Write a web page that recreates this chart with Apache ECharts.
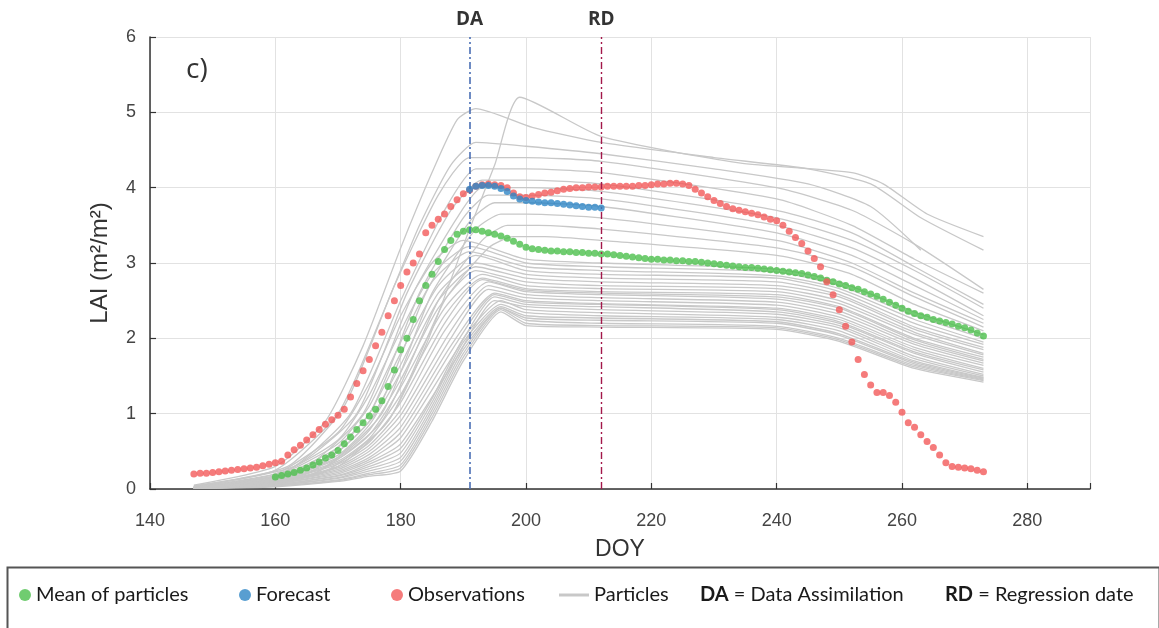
<!DOCTYPE html>
<html><head><meta charset="utf-8">
<script src="https://cdn.jsdelivr.net/npm/echarts@6/dist/echarts.min.js"></script>
<style>html,body{margin:0;padding:0;background:#fff}#chart{width:1159px;height:628px}</style>
</head><body><div id="chart"></div>
<script>
// ---- data ----
const xTicks = [140, 160, 180, 200, 220, 240, 260, 280];
const yTicks = [0, 1, 2, 3, 4, 5, 6];
const daDoy = 191;
const rdDoy = 212;

const obsStartDoy = 147;
const observations = [
  0.20,0.21,0.21,0.22,0.23,0.24,0.25,0.26,0.27,0.28,0.29,0.31,0.33,0.35,0.37,0.45,0.52,0.58,0.65,0.72,
  0.79,0.86,0.92,0.98,1.06,1.22,1.40,1.57,1.72,1.90,2.08,2.30,2.50,2.70,2.88,3.00,3.12,3.40,3.50,3.58,
  3.65,3.75,3.84,3.92,3.97,4.02,4.04,4.05,4.04,4.03,4.00,3.93,3.88,3.87,3.89,3.91,3.93,3.94,3.96,3.98,
  3.99,4.00,4.00,4.01,4.01,4.01,4.02,4.02,4.02,4.02,4.02,4.03,4.03,4.04,4.05,4.05,4.06,4.06,4.05,4.03,
  3.98,3.93,3.88,3.83,3.79,3.75,3.72,3.70,3.68,3.66,3.64,3.61,3.58,3.56,3.50,3.42,3.34,3.26,3.16,3.06,
  2.95,2.75,2.58,2.38,2.16,1.95,1.72,1.52,1.38,1.28,1.28,1.24,1.15,1.02,0.88,0.82,0.72,0.63,0.55,0.45,
  0.35,0.30,0.29,0.28,0.27,0.25,0.23
];

const forecastStartDoy = 191;
const forecast = [3.98,4.02,4.03,4.03,4.02,3.99,3.95,3.89,3.85,3.83,3.82,3.81,3.80,3.80,3.79,3.78,3.77,3.76,3.75,3.74,3.74,3.73];

const meanStartDoy = 160;
const meanParticles = [
  0.16,0.18,0.20,0.22,0.25,0.28,0.32,0.36,0.41,0.45,0.51,0.60,0.69,0.79,0.88,0.97,1.06,1.17,1.36,1.58,
  1.85,2.00,2.25,2.50,2.70,2.85,3.02,3.18,3.30,3.38,3.42,3.44,3.44,3.42,3.40,3.38,3.36,3.33,3.29,3.25,
  3.21,3.19,3.18,3.17,3.16,3.16,3.15,3.15,3.14,3.14,3.13,3.13,3.12,3.12,3.11,3.10,3.09,3.08,3.07,3.06,
  3.05,3.05,3.04,3.04,3.03,3.03,3.02,3.02,3.01,3.00,2.99,2.98,2.97,2.96,2.95,2.94,2.94,2.93,2.92,2.91,
  2.90,2.89,2.88,2.87,2.86,2.84,2.82,2.80,2.77,2.75,2.72,2.70,2.67,2.65,2.62,2.59,2.56,2.52,2.48,2.44,
  2.40,2.36,2.33,2.30,2.28,2.25,2.23,2.21,2.19,2.16,2.14,2.11,2.07,2.03
];

const particles = [
  [[147,0.01],[160,0.08],[170,0.3],[178,0.9],[184,1.9],[191,3.45],[195,4.3],[199,5.2],[212,4.68],[234,4.33],[252,4.2],[257,4.05],[264,3.65],[273,3.35]],
  [[147,0.05],[160,0.3],[168,0.9],[174,1.9],[180,3.2],[185,4.2],[189,4.9],[192,5.05],[201,4.8],[212,4.6],[230,4.4],[245,4.25],[255,4.05],[263,3.6],[273,3.17]],
  [[147,0.04],[160,0.25],[170,1.0],[177,2.3],[183,3.5],[188,4.3],[192,4.6],[200,4.55],[212,4.45],[230,4.25],[245,4.05],[255,3.75],[263,3.17]],
  [[147,0.04],[162,0.3],[171,1.1],[179,2.7],[186,3.9],[191,4.4],[200,4.4],[212,4.35],[240,4.0],[252,3.7],[262,3.25],[273,2.65]],
  [[147,0.03],[162,0.25],[172,1.0],[180,2.5],[187,3.7],[192,4.25],[200,4.25],[212,4.2],[240,3.85],[252,3.5],[262,3.05],[273,2.6]],
  [[147,0.03],[163,0.3],[173,1.0],[181,2.6],[188,3.7],[193,4.1],[200,4.1],[212,4.05],[240,3.7],[252,3.4],[262,2.95],[273,2.45]],
  [[147,0.02],[164,0.25],[174,1.0],[182,2.6],[189,3.6],[193,4.0],[200,4.0],[212,3.95],[240,3.6],[252,3.3],[262,2.9],[273,2.4]],
  [[147,0.02],[165,0.25],[175,1.0],[183,2.6],[190,3.6],[194,3.9],[200,3.9],[212,3.85],[240,3.5],[252,3.2],[262,2.8],[273,2.3]],
  [[147,0.02],[165,0.2],[176,1.0],[184,2.6],[191,3.55],[195,3.8],[200,3.8],[212,3.75],[240,3.4],[252,3.1],[262,2.7],[273,2.25]],
  [[147,0.02],[166,0.2],[177,1.0],[185,2.6],[192,3.45],[196,3.65],[200,3.65],[212,3.6],[240,3.3],[252,3.0],[262,2.6],[273,2.2]],
  [[147,0.02],[166,0.2],[177,0.9],[186,2.5],[193,3.3],[197,3.5],[202,3.5],[212,3.45],[240,3.2],[252,2.95],[262,2.55],[273,2.15]],
  [[147,0.01],[167,0.2],[178,0.9],[187,2.5],[194,3.2],[198,3.35],[203,3.35],[212,3.3],[240,3.1],[252,2.85],[262,2.45],[273,2.1]],
  [[147,0.03],[160,0.2],[170,0.75],[175,1.4],[180,2.3],[185,3.0],[190,3.3],[200,3.05],[212,3.0],[240,2.92],[250,2.75],[262,2.35],[273,2.05]],
  [[147,0.03],[160,0.18],[170,0.65],[175,1.25],[180,2.1],[185,2.85],[191,3.22],[200,3.0],[212,2.95],[240,2.88],[250,2.7],[262,2.3],[273,2.0]],
  [[147,0.02],[160,0.17],[170,0.6],[175,1.1],[180,1.95],[185,2.75],[191,3.15],[200,2.95],[212,2.9],[240,2.83],[250,2.66],[262,2.25],[273,1.95]],
  [[147,0.02],[160,0.15],[170,0.55],[175,1.0],[180,1.8],[186,2.7],[192,3.1],[200,2.9],[212,2.85],[240,2.8],[250,2.62],[262,2.2],[273,1.92]],
  [[147,0.02],[160,0.14],[170,0.5],[175,0.9],[180,1.65],[186,2.6],[192,3.0],[200,2.85],[212,2.8],[240,2.75],[250,2.58],[262,2.15],[273,1.88]],
  [[147,0.02],[160,0.13],[170,0.45],[175,0.85],[180,1.55],[186,2.5],[192,2.95],[200,2.8],[212,2.75],[240,2.7],[250,2.55],[262,2.12],[273,1.85]],
  [[147,0.02],[160,0.12],[170,0.42],[175,0.78],[180,1.45],[186,2.4],[192,2.9],[200,2.75],[212,2.7],[240,2.66],[250,2.5],[262,2.08],[273,1.8]],
  [[147,0.02],[160,0.12],[170,0.4],[175,0.72],[180,1.35],[187,2.4],[193,2.85],[200,2.7],[212,2.66],[240,2.62],[250,2.46],[262,2.05],[273,1.78]],
  [[147,0.01],[160,0.11],[170,0.37],[175,0.67],[180,1.25],[187,2.3],[193,2.8],[200,2.66],[212,2.62],[240,2.58],[250,2.42],[262,2.0],[273,1.75]],
  [[147,0.01],[160,0.1],[170,0.35],[175,0.62],[180,1.15],[187,2.2],[193,2.78],[200,2.64],[212,2.6],[240,2.55],[250,2.4],[262,1.98],[273,1.72]],
  [[147,0.01],[160,0.1],[170,0.33],[175,0.58],[180,1.05],[187,2.1],[194,2.75],[200,2.62],[212,2.58],[240,2.52],[250,2.36],[262,1.95],[273,1.7]],
  [[147,0.01],[160,0.09],[170,0.3],[175,0.54],[180,0.98],[188,2.1],[194,2.7],[200,2.58],[212,2.54],[240,2.48],[250,2.32],[262,1.92],[273,1.67]],
  [[147,0.01],[160,0.09],[170,0.28],[175,0.5],[180,0.9],[188,2.0],[194,2.65],[200,2.54],[212,2.5],[240,2.44],[250,2.28],[262,1.88],[273,1.64]],
  [[147,0.01],[160,0.08],[170,0.26],[175,0.46],[180,0.82],[188,1.9],[195,2.6],[200,2.5],[212,2.46],[240,2.4],[250,2.25],[262,1.85],[273,1.6]],
  [[147,0.01],[160,0.08],[170,0.24],[175,0.42],[180,0.75],[189,1.95],[195,2.58],[200,2.48],[212,2.45],[240,2.38],[250,2.22],[262,1.82],[273,1.58]],
  [[147,0.01],[160,0.07],[170,0.22],[175,0.39],[180,0.68],[189,1.85],[195,2.55],[200,2.45],[212,2.42],[240,2.35],[250,2.2],[262,1.8],[273,1.55]],
  [[147,0.01],[160,0.07],[170,0.2],[175,0.36],[180,0.6],[189,1.75],[195,2.5],[200,2.42],[212,2.38],[240,2.32],[250,2.17],[262,1.76],[273,1.52]],
  [[147,0.01],[160,0.06],[170,0.18],[175,0.33],[180,0.54],[185,1.2],[190,2.0],[196,2.5],[200,2.38],[212,2.34],[240,2.28],[250,2.14],[262,1.73],[273,1.5]],
  [[147,0.01],[160,0.06],[170,0.17],[175,0.3],[180,0.48],[185,1.15],[190,1.95],[196,2.45],[200,2.34],[212,2.3],[240,2.25],[250,2.1],[262,1.7],[273,1.48]],
  [[147,0.01],[160,0.05],[170,0.15],[175,0.27],[180,0.42],[185,1.1],[190,1.9],[196,2.42],[200,2.3],[212,2.27],[240,2.22],[250,2.06],[262,1.68],[273,1.47]],
  [[147,0.01],[160,0.05],[170,0.14],[175,0.24],[180,0.37],[185,1.05],[190,1.85],[196,2.4],[200,2.27],[212,2.24],[240,2.2],[250,2.04],[262,1.66],[273,1.46]],
  [[147,0.01],[160,0.04],[170,0.12],[175,0.21],[180,0.32],[185,1.0],[190,1.8],[196,2.4],[200,2.24],[212,2.2],[240,2.16],[250,2.0],[262,1.64],[273,1.45]],
  [[147,0.01],[160,0.04],[170,0.11],[175,0.19],[180,0.28],[185,0.95],[190,1.75],[196,2.38],[200,2.2],[212,2.17],[240,2.14],[250,1.98],[262,1.62],[273,1.44]],
  [[147,0.01],[160,0.03],[170,0.1],[175,0.17],[180,0.24],[185,0.9],[190,1.7],[196,2.35],[200,2.17],[212,2.15],[240,2.12],[250,1.96],[262,1.6],[273,1.42]]
];

// ---- styles ----
const C_GREEN = '#4cbf4c', C_BLUE = '#2e86c6', C_RED = '#f25a5a', C_GREY = '#c8c8c8';
const legendFont = {fontFamily: 'Lato', fontSize: 20, color: '#1a1a1a'};

const series = [];
particles.forEach(p => series.push({
  name: 'Particles', type: 'line', data: p, showSymbol: false, symbol: 'none', silent: true,
  smooth: 0.2,
  color: C_GREY, lineStyle: {color: C_GREY, width: 1.3}, z: 1
}));
series.push({name: 'Mean of particles', type: 'scatter', symbolSize: 7, color: C_GREEN,
  data: meanParticles.map((v, i) => [meanStartDoy + i, v]), z: 3});
series.push({name: 'Observations', type: 'scatter', symbolSize: 7, color: C_RED,
  data: observations.map((v, i) => [obsStartDoy + i, v]), z: 4});
series.push({name: 'Forecast', type: 'scatter', symbolSize: 7, color: C_BLUE,
  data: forecast.map((v, i) => [forecastStartDoy + i, v]), z: 5});
series.push({name: 'refs', type: 'line', data: [], z: 6,
  markLine: {symbol: 'none', silent: true, animation: false,
    label: {show: true, position: 'end', distance: 8, fontFamily: 'Open Sans', fontWeight: 'bold', fontSize: 19, color: '#333'},
    data: [
      {xAxis: daDoy, label: {formatter: 'DA'}, lineStyle: {color: '#4a6fb5', width: 1.6, type: [7, 3, 2, 3]}},
      {xAxis: rdDoy, label: {formatter: 'RD'}, lineStyle: {color: '#a3184a', width: 1.4, type: [7, 3, 2, 3]}}
    ]}});

const axisCommon = {
  axisLine: {show: true, lineStyle: {color: '#333', width: 1.5}},
  axisTick: {show: true, inside: true, length: 6, lineStyle: {color: '#333', width: 1.2}},
  splitLine: {show: true, lineStyle: {color: '#e2e2e2', width: 1}},
};

const option = {
  animation: false,
  backgroundColor: '#fff',
  grid: {left: 150, top: 37, width: 940, height: 452, containLabel: false},
  xAxis: Object.assign({type: 'value', min: 140, max: 290, interval: 20,
    name: 'DOY', nameLocation: 'middle', nameGap: 49,
    nameTextStyle: {fontFamily: 'Liberation Sans', fontSize: 23, color: '#333'},
    axisLabel: {fontFamily: 'Liberation Sans', fontSize: 18, color: '#444', margin: 23,
      formatter: v => xTicks.includes(v) ? String(v) : ''}}, axisCommon),
  yAxis: Object.assign({type: 'value', min: 0, max: 6, interval: 1,
    name: 'LAI (m²/m²)', nameLocation: 'middle', nameGap: 38, nameRotate: 90,
    nameTextStyle: {fontFamily: 'Liberation Sans', fontSize: 24, color: '#333'},
    axisLabel: {fontFamily: 'Liberation Sans', fontSize: 18, color: '#444', margin: 14,
      formatter: v => yTicks.includes(v) ? String(v) : ''}}, axisCommon),
  legend: [
    {data: ['Mean of particles'], left: 14, top: 580, icon: 'circle', itemWidth: 12, itemHeight: 12, textStyle: legendFont},
    {data: ['Forecast'], left: 234, top: 580, icon: 'circle', itemWidth: 12, itemHeight: 12, textStyle: legendFont},
    {data: ['Observations'], left: 386, top: 580, icon: 'circle', itemWidth: 12, itemHeight: 12, textStyle: legendFont},
    {data: ['Particles'], left: 554, top: 580, icon: 'rect', itemWidth: 30, itemHeight: 3, textStyle: legendFont}
  ],
  graphic: [
    {type: 'rect', left: 5, top: 565, shape: {width: 1152, height: 80}, style: {fill: 'none', stroke: '#555', lineWidth: 2}, z: 10},
    {type: 'text', left: 186, top: 56, style: {text: 'c)', font: '28px "Open Sans"', fill: '#333'}, z: 10},
    {type: 'text', left: 700, top: 585, style: {text: '{b|DA} = Data Assimilation', rich: {b: {fontWeight: 'bold', fontFamily: 'Lato', fontSize: 20, fill: '#1a1a1a'}}, font: '20px Lato', fill: '#1a1a1a'}, z: 10},
    {type: 'text', left: 945, top: 585, style: {text: '{b|RD} = Regression date', rich: {b: {fontWeight: 'bold', fontFamily: 'Lato', fontSize: 20, fill: '#1a1a1a'}}, font: '20px Lato', fill: '#1a1a1a'}, z: 10}
  ],
  series: series
};

const chart = echarts.init(document.getElementById('chart'), null, {renderer: 'canvas'});
chart.setOption(option);
</script>
</body></html>
